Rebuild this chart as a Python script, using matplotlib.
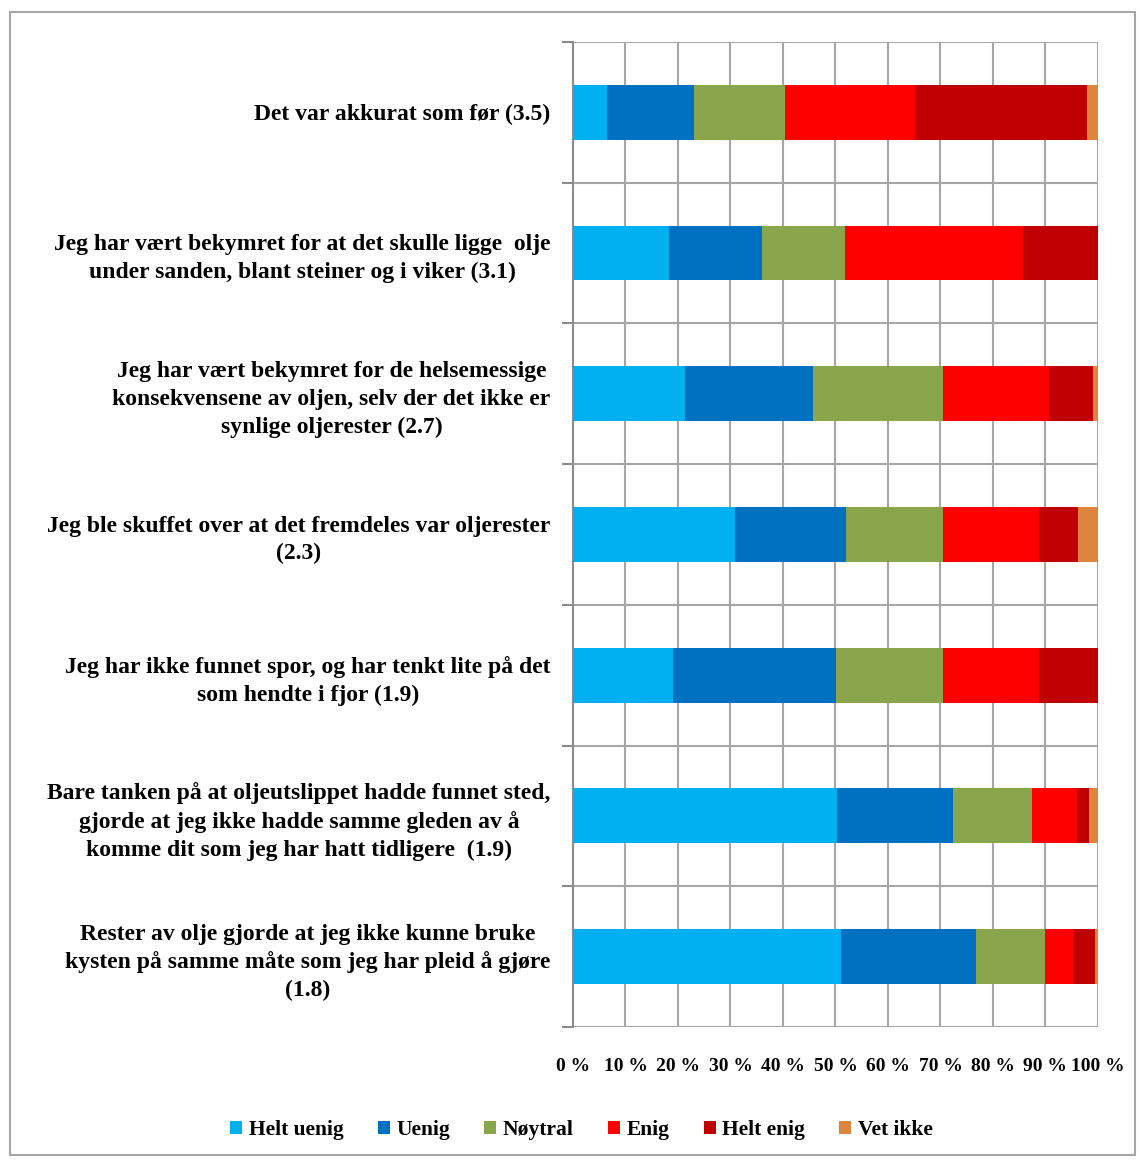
#!/usr/bin/env python3

import matplotlib
matplotlib.use('Agg')
import matplotlib.pyplot as plt
from matplotlib.patches import Rectangle

statements = [
    'Det var akkurat som før (3.5)',
    'Jeg har vært bekymret for at det skulle ligge  olje\nunder sanden, blant steiner og i viker (3.1)',
    'Jeg har vært bekymret for de helsemessige\nkonsekvensene av oljen, selv der det ikke er\nsynlige oljerester (2.7)',
    'Jeg ble skuffet over at det fremdeles var oljerester\n(2.3)',
    'Jeg har ikke funnet spor, og har tenkt lite på det\nsom hendte i fjor (1.9)',
    'Bare tanken på at oljeutslippet hadde funnet sted,\ngjorde at jeg ikke hadde samme gleden av å\nkomme dit som jeg har hatt tidligere  (1.9)',
    'Rester av olje gjorde at jeg ikke kunne bruke\nkysten på samme måte som jeg har pleid å gjøre\n(1.8)',
]

answers = ['Helt uenig', 'Uenig', 'Nøytral', 'Enig', 'Helt enig', 'Vet ikke']

# percent per statement, same order as statements
helt_uenig = [6.5, 18.3, 21.3, 30.9, 19.1, 50.3, 51.1]
uenig      = [16.6, 17.7, 24.4, 21.2, 31.0, 22.0, 25.6]
noytral    = [17.3, 15.8, 24.7, 18.3, 20.3, 15.1, 13.2]
enig       = [24.7, 33.9, 20.3, 18.4, 18.4, 8.6, 5.5]
helt_enig  = [32.9, 14.3, 8.4, 7.4, 11.2, 2.3, 4.1]
vet_ikke   = [2.0, 0.0, 0.9, 3.8, 0.0, 1.7, 0.5]

colors = ['#00B0F0', '#0070C0', '#8BA54D', '#FF0000', '#C00000', '#DE843C']

def main():
    matplotlib.rcParams.update({'font.family': 'Liberation Serif', 'font.weight': 'bold'})

    fig = plt.figure(figsize=(11.4, 11.6), dpi=100)
    ax = fig.add_axes([0.5026, 0.1147, 0.4605, 0.8491])
    fig.patches.append(Rectangle((10/1140, 5/1160), 1125/1140, 1143/1160, transform=fig.transFigure,
                                 fill=False, edgecolor='#A6A6A6', linewidth=1.5))

    series = [helt_uenig, uenig, noytral, enig, helt_enig, vet_ikke]
    y = list(range(len(statements)))
    left = [0.0] * len(statements)
    for name, vals, col in zip(answers, series, colors):
        ax.barh(y, vals, 0.39, left=left, color=col, label=name, zorder=3)
        left = [l + v for l, v in zip(left, vals)]

    ax.set_xlim(0, 100)
    ax.set_ylim(len(statements) - 0.5, -0.5)
    ax.set_xticks(range(0, 101, 10))
    ax.set_xticklabels(['%d %%' % i for i in range(0, 101, 10)], fontsize=14, fontweight='bold')
    ax.set_yticks(y)
    ax.set_yticklabels(statements, fontsize=17, fontweight='bold', multialignment='center', linespacing=1.4)
    ax.tick_params(axis='y', length=0, pad=16)
    ax.tick_params(axis='x', length=0, pad=22)

    # category separators + tick marks on the left
    ax.set_yticks([i - 0.5 for i in range(len(statements) + 1)], minor=True)
    ax.tick_params(axis='y', which='minor', length=8, color='#8C8C8C', width=1.5)
    ax.grid(True, axis='x', color='#A6A6A6', linewidth=1.5, zorder=0)
    ax.grid(True, axis='y', which='minor', color='#A6A6A6', linewidth=1.5, zorder=0)

    for s in ['top', 'right', 'bottom']:
        ax.spines[s].set_visible(False)
    ax.spines['left'].set_color('#8C8C8C')
    ax.spines['left'].set_linewidth(1.5)

    fig.legend(*ax.get_legend_handles_labels(), loc='center', bbox_to_anchor=(0.51, 0.026), ncol=6,
               frameon=False, handlelength=0.55, handleheight=0.55, handletextpad=0.3,
               columnspacing=1.6, prop={'weight': 'bold', 'size': 15.5})

    fig.savefig('out.png', dpi=100)
    plt.close()

if __name__ == "__main__":
    main()
